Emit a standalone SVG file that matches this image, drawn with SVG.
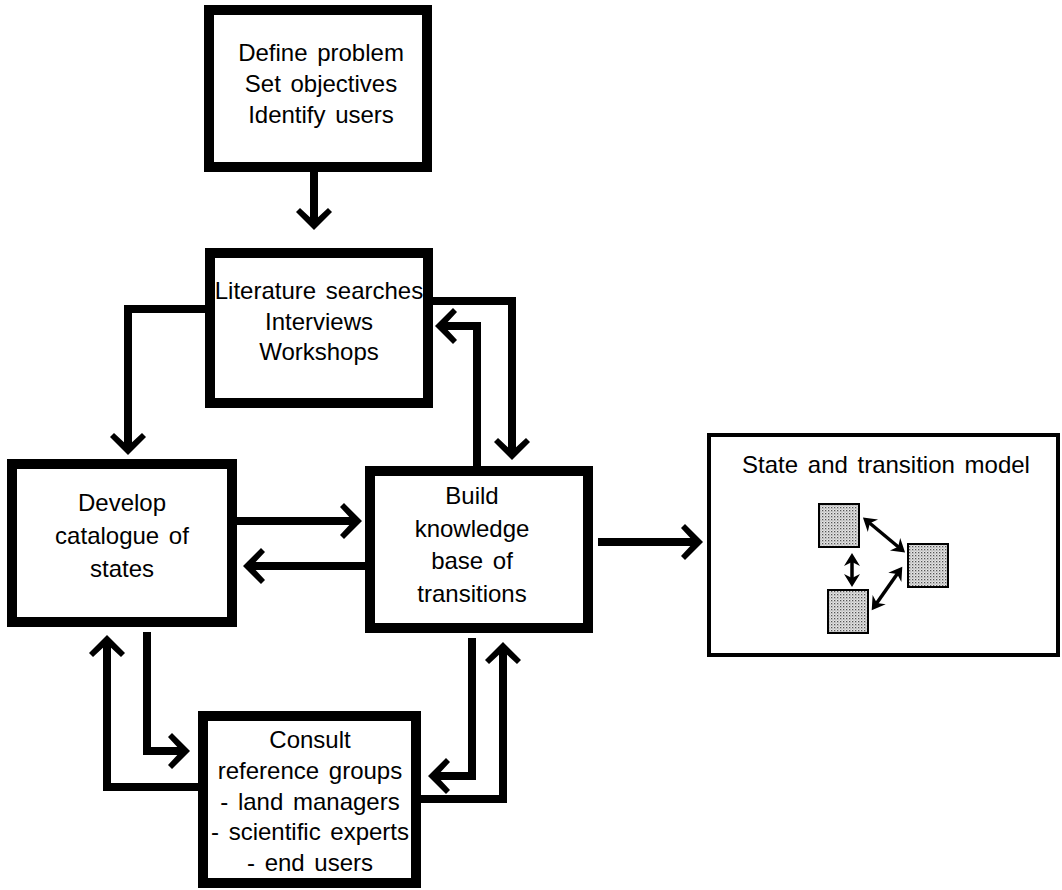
<svg xmlns="http://www.w3.org/2000/svg" width="1062" height="890" viewBox="0 0 1062 890">
<style>
.box{fill:#fff;stroke:#000;stroke-width:10}
.mbox{fill:#fff;stroke:#000;stroke-width:4}
.t{font-family:"Liberation Sans",Arial,sans-serif;font-size:24px;fill:#000;text-anchor:middle;word-spacing:3px}
.c{fill:none;stroke:#000;stroke-width:8;stroke-linejoin:miter;marker-end:url(#ah)}
.s{fill:url(#dots);stroke:#000;stroke-width:2}
.d{fill:none;stroke:#000;stroke-width:3.5;marker-start:url(#sh);marker-end:url(#sh)}
</style>
<defs>
<marker id="ah" markerUnits="userSpaceOnUse" orient="auto" refX="0" refY="0" markerWidth="40" markerHeight="40" overflow="visible">
<polygon points="6,0 -12,-18 -16,-14 -3,0 -16,14 -12,18" fill="#000"/>
</marker>
<marker id="sh" markerUnits="userSpaceOnUse" orient="auto-start-reverse" refX="0" refY="0" markerWidth="20" markerHeight="20" overflow="visible">
<polygon points="4,0 -9,-8 -5,0 -9,8" fill="#000"/>
</marker>
<pattern id="dots" patternUnits="userSpaceOnUse" width="3" height="3">
<rect width="3" height="3" fill="#e4e4e4"/>
<rect width="1.3" height="1.3" fill="#555"/>
<rect x="1.5" y="1.5" width="1" height="1" fill="#888"/>
</pattern>
</defs>

<g id="connectors">
<path class="c" d="M314,172 V224"/>
<path class="c" d="M205,309 H128 V449"/>
<path class="c" d="M433,301 H512 V454"/>
<path class="c" d="M477,466 V326 H441"/>
<path class="c" d="M237,521 H356"/>
<path class="c" d="M365,566 H249"/>
<path class="c" d="M598,542 H697"/>
<path class="c" d="M147,632 V751 H184"/>
<path class="c" d="M198,787 H107 V641"/>
<path class="c" d="M472,638 V776 H434"/>
<path class="c" d="M421,799 H503 V648"/>
</g>

<g id="n-define">
<rect class="box" x="209" y="10" width="218" height="157"/>
<text class="t" x="321" y="61">Define problem</text>
<text class="t" x="321" y="92">Set objectives</text>
<text class="t" x="321" y="123">Identify users</text>
</g>

<g id="n-literature">
<rect class="box" x="210" y="253" width="218" height="150"/>
<text class="t" x="319" y="299" word-spacing="0">Literature searches</text>
<text class="t" x="319" y="330">Interviews</text>
<text class="t" x="319" y="360">Workshops</text>
</g>

<g id="n-develop">
<rect class="box" x="12" y="464" width="220" height="158"/>
<text class="t" x="122" y="511">Develop</text>
<text class="t" x="122" y="544">catalogue of</text>
<text class="t" x="122" y="577">states</text>
</g>

<g id="n-build">
<rect class="box" x="370" y="471" width="218" height="157"/>
<text class="t" x="472" y="504">Build</text>
<text class="t" x="472" y="537">knowledge</text>
<text class="t" x="472" y="569">base of</text>
<text class="t" x="472" y="602">transitions</text>
</g>

<g id="n-consult">
<rect class="box" x="203" y="716" width="213" height="167"/>
<text class="t" x="310" y="748">Consult</text>
<text class="t" x="310" y="779">reference groups</text>
<text class="t" x="310" y="810">- land managers</text>
<text class="t" x="310" y="840">- scientific experts</text>
<text class="t" x="310" y="871">- end users</text>
</g>

<g id="n-model">
<rect class="mbox" x="709" y="435" width="349" height="220"/>
<text class="t" x="886" y="473" word-spacing="5">State and transition model</text>
<rect class="s" x="819" y="504" width="40" height="43"/>
<rect class="s" x="908" y="544" width="40" height="43"/>
<rect class="s" x="828" y="590" width="40" height="43"/>
<path class="d" d="M866,520 L902,550"/>
<path class="d" d="M852,557 V583"/>
<path class="d" d="M900,570 L874,607"/>
</g>
</svg>
